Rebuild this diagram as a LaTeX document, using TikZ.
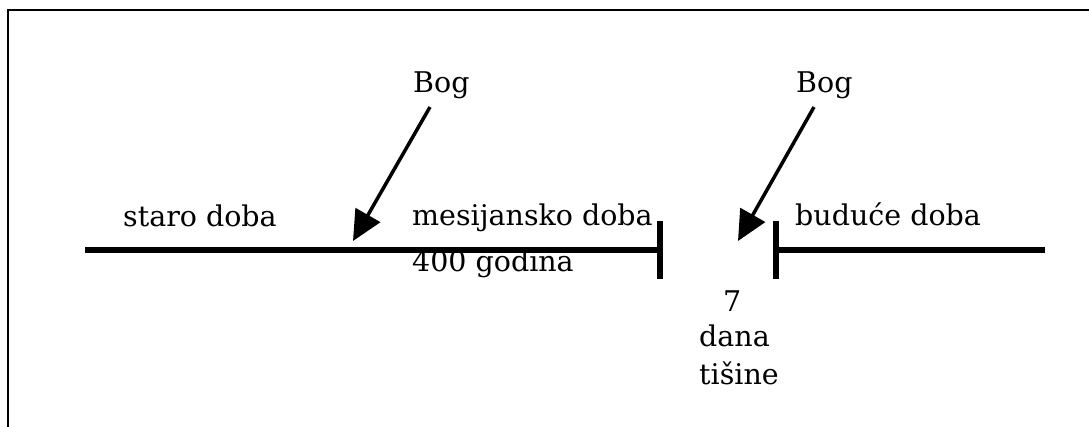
\documentclass[tikz,border=0pt]{standalone}
\usepackage{fontspec}
\setmainfont{DejaVu Serif}
\usetikzlibrary{arrows.meta}
\tikzset{
  lbl/.style={anchor=base west, inner sep=0pt, font=\fontsize{28.5}{34}\selectfont},
  frame/.style={line width=2.4pt},
  era/.style={line width=5.5pt},
  tick/.style={line width=5.5pt},
  godarrow/.style={line width=3.5pt, -{Triangle[length=30pt,width=28pt]}}
}
\begin{document}
\begin{tikzpicture}[x=1pt,y=-1pt]
\useasboundingbox (0,0) rectangle (1089,427);
% frame
\draw[frame] (8,428) -- (8,10) -- (1090,10);
% timeline
\coordinate (l1) at (85,250);
\coordinate (l2) at (660,250);
\coordinate (t1a) at (660,221);
\coordinate (t1b) at (660,279);
\coordinate (r1) at (776,250);
\coordinate (r2) at (1045,250);
\coordinate (t2a) at (776,221);
\coordinate (t2b) at (776,279);
\draw[era] (l1) -- (l2);
\draw[tick] (t1a) -- (t1b);
\draw[era] (r1) -- (r2);
\draw[tick] (t2a) -- (t2b);
% labels
\node[lbl] (staro) at (123,227) {staro doba};
\node[lbl] (mes) at (412,226) {mesijansko doba};
\node[lbl] (god) at (412,272) {400 godina};
\node[lbl] (bud) at (795,226) {buduće doba};
\node[lbl] (bog1) at (413,93) {Bog};
\node[lbl] (bog2) at (796,93) {Bog};
\node[lbl] (sedam) at (723,312) {7};
\node[lbl] (dana) at (699,346) {dana};
\node[lbl] (tis) at (699,384) {tišine};
% arrows
\coordinate (a1s) at (430,107);
\coordinate (a1e) at (353,241);
\coordinate (a2s) at (814,107);
\coordinate (a2e) at (738,241);
\draw[godarrow] (a1s) -- (a1e);
\draw[godarrow] (a2s) -- (a2e);
\end{tikzpicture}
\end{document}
